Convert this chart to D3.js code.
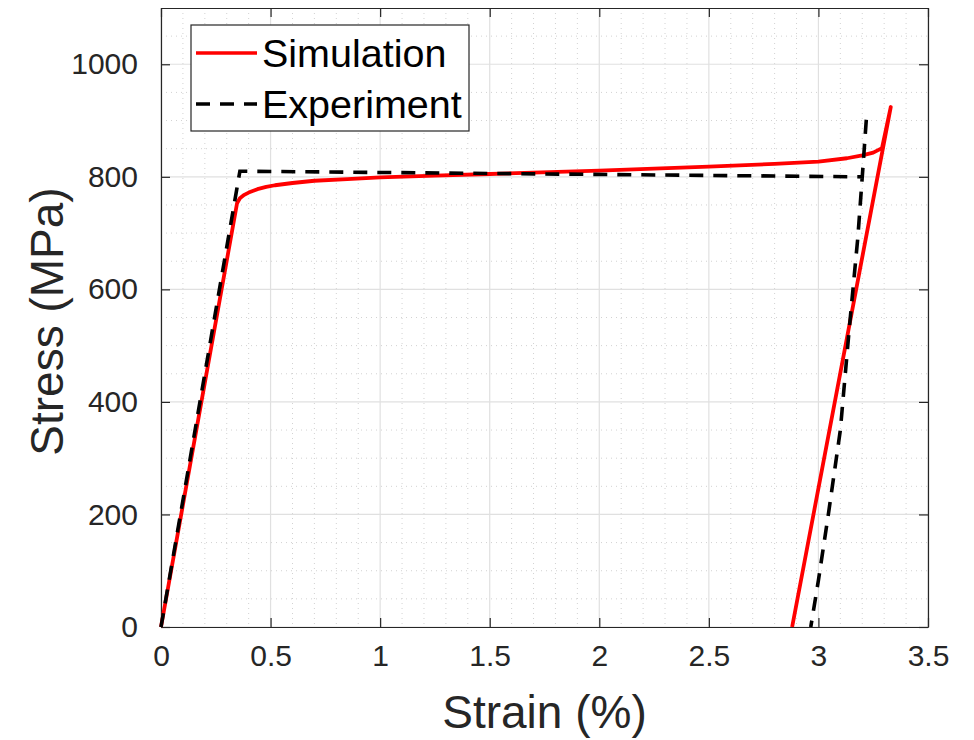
<!DOCTYPE html>
<html>
<head>
<meta charset="utf-8">
<script src="https://cdn.jsdelivr.net/npm/d3@7"></script>
<style>
  body { margin: 0; background: #fff; }
  text { font-family: "Liberation Sans", Arial, Helvetica, sans-serif; fill: #262626; }
</style>
</head>
<body>
<svg id="chart" width="974" height="740"></svg>
<script>
// simulation curve (strain %, stress MPa)
var simStrain = [0, 0.347, 0.36, 0.38, 0.4, 0.44, 0.48, 0.52, 0.6, 0.7, 0.85, 1.0, 1.25, 1.5, 2.0, 2.5, 2.8, 3.0, 3.13, 3.2, 3.25, 3.29, 3.33, 2.88];
var simStress = [0, 753, 762, 768, 772, 778, 782, 785, 789, 793, 796, 799, 802, 805, 811, 818, 823, 827, 833, 838, 843, 851, 924, 0];

// experiment curve
var expStrain = [0, 0.36, 3.2, 3.22, 3.2, 3.18, 3.14, 3.10, 3.046, 3.0, 2.965];
var expStress = [0, 810, 800, 910, 800, 693, 527, 350, 202, 83, 0];

var xTicks = [0, 0.5, 1, 1.5, 2, 2.5, 3, 3.5];
var yTicks = [0, 200, 400, 600, 800, 1000];
var seriesNames = ["Simulation", "Experiment"];

(function() {
  var svg = d3.select("#chart");
  var pLeft = 161, pRight = 928, pTop = 8, pBottom = 627;

  var x = d3.scaleLinear().domain([0, 3.5]).range([pLeft, pRight]);
  var y = d3.scaleLinear().domain([0, 1100]).range([pBottom, pTop]);

  // minor grid
  var grid = svg.append("g");
  var xMinor = d3.range(1, 35).map(function(i) { return i / 10; })
    .filter(function(v) { return Math.abs(v * 2 - Math.round(v * 2)) > 1e-6; });
  var yMinor = d3.range(50, 1100, 50).filter(function(v) { return v % 200 != 0; });

  grid.selectAll(".mx").data(xMinor)
    .enter().append("line")
    .attr("x1", function(d) { return x(d); }).attr("x2", function(d) { return x(d); })
    .attr("y1", pTop).attr("y2", pBottom)
    .attr("stroke", "#d2d2d2").attr("stroke-width", 1).attr("stroke-dasharray", "1,4");
  grid.selectAll(".my").data(yMinor)
    .enter().append("line")
    .attr("y1", function(d) { return y(d); }).attr("y2", function(d) { return y(d); })
    .attr("x1", pLeft).attr("x2", pRight)
    .attr("stroke", "#d2d2d2").attr("stroke-width", 1).attr("stroke-dasharray", "1,4");

  // major grid
  grid.selectAll(".gx").data(xTicks)
    .enter().append("line")
    .attr("x1", function(d) { return x(d); }).attr("x2", function(d) { return x(d); })
    .attr("y1", pTop).attr("y2", pBottom)
    .attr("stroke", "#e0e0e0").attr("stroke-width", 1.2);
  grid.selectAll(".gy").data(yTicks)
    .enter().append("line")
    .attr("y1", function(d) { return y(d); }).attr("y2", function(d) { return y(d); })
    .attr("x1", pLeft).attr("x2", pRight)
    .attr("stroke", "#e0e0e0").attr("stroke-width", 1.2);

  // axes (ticks pointing inward, box on)
  var axCol = "#262626";
  var gx = svg.append("g").attr("transform", "translate(0," + pBottom + ")")
    .call(d3.axisBottom(x).tickValues(xTicks).tickSizeInner(-9).tickSizeOuter(0).tickPadding(18).tickFormat(d3.format("~g")));
  var gy = svg.append("g").attr("transform", "translate(" + pLeft + ",0)")
    .call(d3.axisLeft(y).tickValues(yTicks).tickSizeInner(-9).tickSizeOuter(0).tickPadding(23).tickFormat(d3.format("d")));
  var gxt = svg.append("g").attr("transform", "translate(0," + pTop + ")")
    .call(d3.axisTop(x).tickValues(xTicks).tickSizeInner(-9).tickSizeOuter(0).tickFormat(""));
  var gyr = svg.append("g").attr("transform", "translate(" + pRight + ",0)")
    .call(d3.axisRight(y).tickValues(yTicks).tickSizeInner(-9).tickSizeOuter(0).tickFormat(""));
  [gx, gy, gxt, gyr].forEach(function(g) {
    g.attr("font-size", 30).attr("font-family", "'Liberation Sans', Arial, sans-serif");
    g.selectAll("path").attr("stroke", axCol).attr("stroke-width", 1.2);
    g.selectAll("line").attr("stroke", axCol).attr("stroke-width", 1.2);
    g.selectAll("text").style("fill", axCol);
  });
  gx.selectAll("text").attr("dy", "0.71em");

  // curves
  var line = d3.line().x(function(d) { return x(d[0]); }).y(function(d) { return y(d[1]); });
  var simData = simStrain.map(function(v, i) { return [v, simStress[i]]; });
  var expData = expStrain.map(function(v, i) { return [v, expStress[i]]; });

  svg.append("path").datum(simData).attr("d", line)
    .attr("fill", "none").attr("stroke", "#ff0000").attr("stroke-width", 3.8)
    .attr("stroke-linejoin", "round");
  svg.append("path").datum(expData).attr("d", line)
    .attr("fill", "none").attr("stroke", "#000").attr("stroke-width", 3.6)
    .attr("stroke-dasharray", "14,10");

  // axis labels
  svg.append("text").attr("x", (pLeft + pRight) / 2).attr("y", 728)
    .attr("text-anchor", "middle").attr("font-size", 46).text("Strain (%)");
  svg.append("text").attr("transform", "translate(63," + ((pTop + pBottom) / 2 + 4) + ") rotate(-90)")
    .attr("text-anchor", "middle").attr("font-size", 46).text("Stress (MPa)");

  // legend
  var lg = svg.append("g");
  lg.append("rect").attr("x", 191).attr("y", 25).attr("width", 278).attr("height", 106)
    .attr("fill", "#fff").attr("stroke", axCol).attr("stroke-width", 1.2);
  var legendStyles = [
    { color: "#ff0000", dash: null, ly: 53 },
    { color: "#000", dash: "14,10", ly: 104 }
  ];
  seriesNames.forEach(function(name, i) {
    var s = legendStyles[i];
    lg.append("line").attr("x1", 196).attr("x2", 257).attr("y1", s.ly).attr("y2", s.ly)
      .attr("stroke", s.color).attr("stroke-width", 3.6)
      .attr("stroke-dasharray", s.dash);
    lg.append("text").attr("x", 262).attr("y", s.ly + 14).attr("font-size", 39.5)
      .style("fill", "#000").text(name);
  });
})();
</script>
</body>
</html>
